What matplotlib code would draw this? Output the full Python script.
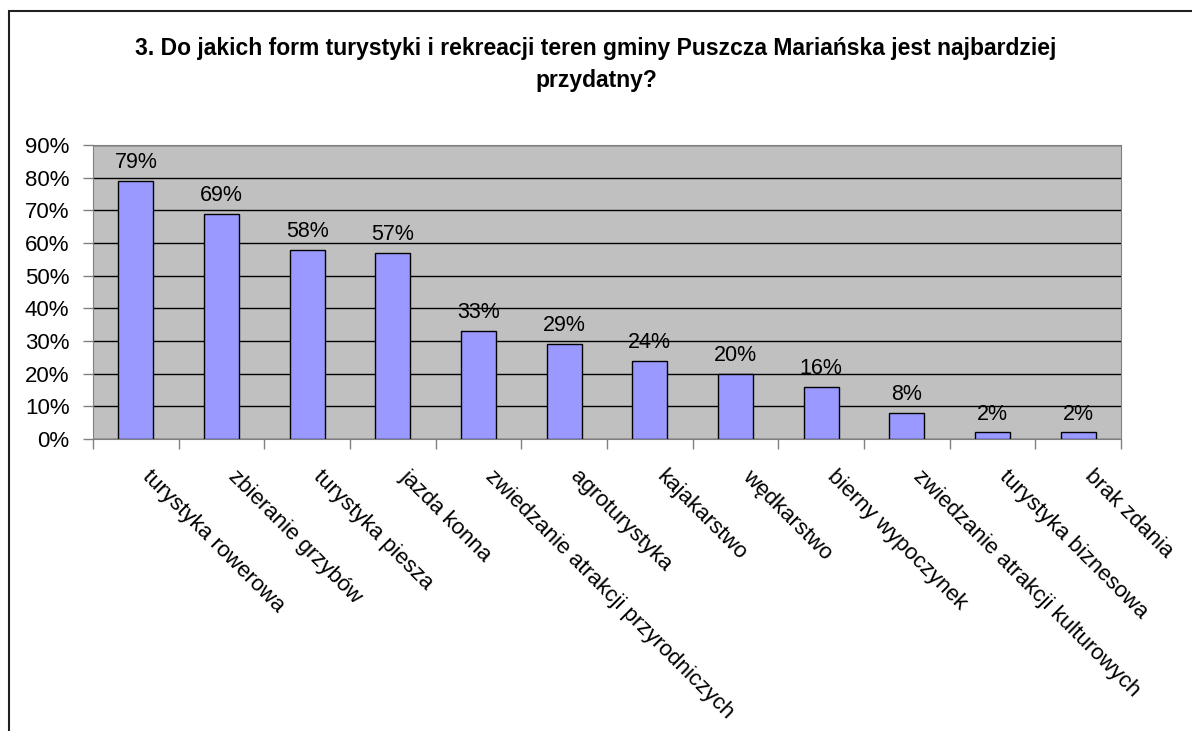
import matplotlib
matplotlib.use("Agg")
import matplotlib.pyplot as plt
from matplotlib.patches import Rectangle
from matplotlib.ticker import MultipleLocator, FuncFormatter

categories = ["turystyka rowerowa", "zbieranie grzybów", "turystyka piesza", "jazda konna",
              "zwiedzanie atrakcji przyrodniczych", "agroturystyka", "kajakarstwo", "wędkarstwo",
              "bierny wypoczynek", "zwiedzanie atrakcji kulturowych", "turystyka biznesowa", "brak zdania"]
values = [79, 69, 58, 57, 33, 29, 24, 20, 16, 8, 2, 2]
title_lines = ["3. Do jakich form turystyki i rekreacji teren gminy Puszcza Mariańska jest najbardziej",
               "przydatny?"]

plt.rcParams['font.family'] = ['Liberation Sans', 'DejaVu Sans']

W, H = 1192, 731
fig = plt.figure(figsize=(W/100, H/100), dpi=100)
ax = fig.add_axes([93/W, 1-439/H, (1121-93)/W, (439-145)/H])
ax.set_facecolor('#C0C0C0')

x = list(range(len(categories)))
ax.bar(x, values, width=0.41, color='#9999FF', edgecolor='black', linewidth=1.0, zorder=3)
for xi, v in zip(x, values):
    ax.text(xi, v + 2.4, f"{v}%", ha='center', va='bottom', fontsize=15.5, zorder=4)

ax.set_xlim(-0.5, len(categories) - 0.5)
ax.set_ylim(0, 90)
ax.yaxis.set_major_locator(MultipleLocator(10))
ax.yaxis.set_major_formatter(FuncFormatter(lambda v, p: f"{int(v)}%"))
ax.grid(axis='y', color='black', linewidth=1.0, zorder=1)
ax.set_axisbelow(True)

ax.set_xticks([i - 0.5 for i in range(len(categories) + 1)])
ax.set_xticklabels([])
ax.tick_params(axis='x', direction='out', length=7, color='#808080', width=1)
ax.tick_params(axis='y', direction='out', length=7, color='#808080', width=1, labelsize=16, pad=10)
for xi, lab in zip(x, categories):
    ax.text(xi + 0.2, -8.2, lab, rotation=-45, rotation_mode='anchor', ha='left', va='top',
            fontsize=16, transform=ax.transData)

for s in ['top', 'right', 'left', 'bottom']:
    ax.spines[s].set_color('#808080')

fig.text(0.5, 1-55/H, title_lines[0], ha='center', va='baseline', fontsize=16.5, fontweight='bold')
fig.text(0.5, 1-87/H, title_lines[1], ha='center', va='baseline', fontsize=16.5, fontweight='bold')

fig.patches.append(Rectangle((9/W, -0.1), 1.2, 1 - 11/H + 0.1, transform=fig.transFigure,
                             fill=False, edgecolor='#202020', linewidth=1.5))

fig.savefig("out.png", dpi=100, facecolor='white')
